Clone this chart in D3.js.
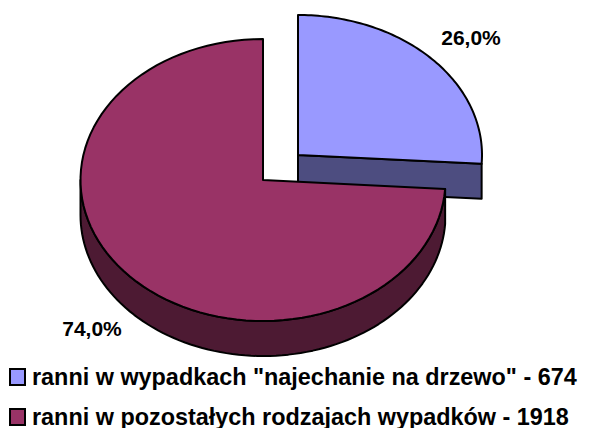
<!DOCTYPE html>
<html><head><meta charset="utf-8">
<script src="https://cdnjs.cloudflare.com/ajax/libs/d3/7.8.5/d3.min.js"></script>
<style>html,body{margin:0;padding:0;background:#fff}svg{display:block}text{font-family:"Liberation Sans",Arial,sans-serif;font-weight:bold;fill:#000}</style>
</head><body><svg id="c" width="591" height="428"></svg>
<script>
const categories = ['ranni w wypadkach "najechanie na drzewo" - 674', 'ranni w pozostałych rodzajach wypadków - 1918'];
const values = [674, 1918];
const topColors = ['#9999FF', '#993366'];
const sideColors = ['#4D4D80', '#4D1A33'];

const svg = d3.select('#c');
const total = d3.sum(values);
const pct = d3.format('.1f');
const arcs = d3.pie().sort(null)(values);
const layout = [
  {cx: 298, cy: 155, rx: 184, ry: 140, lx: 471, ly: 45},
  {cx: 263, cy: 180, rx: 182.5, ry: 141, lx: 92, ly: 336}
];
const depth = 35;
const pt = (l, a, d = 0) => [l.cx + l.rx * Math.sin(a), l.cy - l.ry * Math.cos(a) + d];
const line = d3.line();
const steps = 90;
const sweep = (l, a0, a1, d) => d3.range(steps + 1).map(i => pt(l, a0 + (a1 - a0) * i / steps, d));
const stroke = {stroke: '#000', width: 2};

function drawPoly(points, fill) {
  svg.append('path').attr('d', line(points) + 'Z').attr('fill', fill)
    .attr('stroke', stroke.stroke).attr('stroke-width', stroke.width).attr('stroke-linejoin', 'round');
}

// small slice: cut face
(function () {
  const l = layout[0], a = arcs[0];
  const c = [l.cx, l.cy];
  drawPoly([c, pt(l, a.endAngle), pt(l, a.endAngle, depth), [l.cx, l.cy + depth]], sideColors[0]);
  drawPoly([c, ...sweep(l, a.startAngle, a.endAngle, 0)], topColors[0]);
})();

// large slice: rim then top
(function () {
  const l = layout[1], a = arcs[1];
  const c = [l.cx, l.cy];
  const front = Math.PI * 1.5;
  drawPoly([...sweep(l, a.startAngle, front, 0), ...sweep(l, front, a.startAngle, depth)], sideColors[1]);
  drawPoly([c, ...sweep(l, a.startAngle, a.endAngle, 0)], topColors[1]);
})();

arcs.forEach((a, i) => {
  svg.append('text').attr('x', layout[i].lx).attr('y', layout[i].ly)
    .attr('text-anchor', 'middle').attr('font-size', 21)
    .text(pct(values[i] / total * 100).replace('.', ',') + '%');
});

const legendY = d3.scalePoint().domain(categories).range([377, 417]);
categories.forEach((c, i) => {
  const y = legendY(c);
  svg.append('rect').attr('x', 10).attr('y', y - 8).attr('width', 15).attr('height', 16)
    .attr('fill', topColors[i]).attr('stroke', '#000').attr('stroke-width', 2);
  svg.append('text').attr('x', 32).attr('y', y + 8).attr('font-size', 23.4).text(c);
});
</script></body></html>
